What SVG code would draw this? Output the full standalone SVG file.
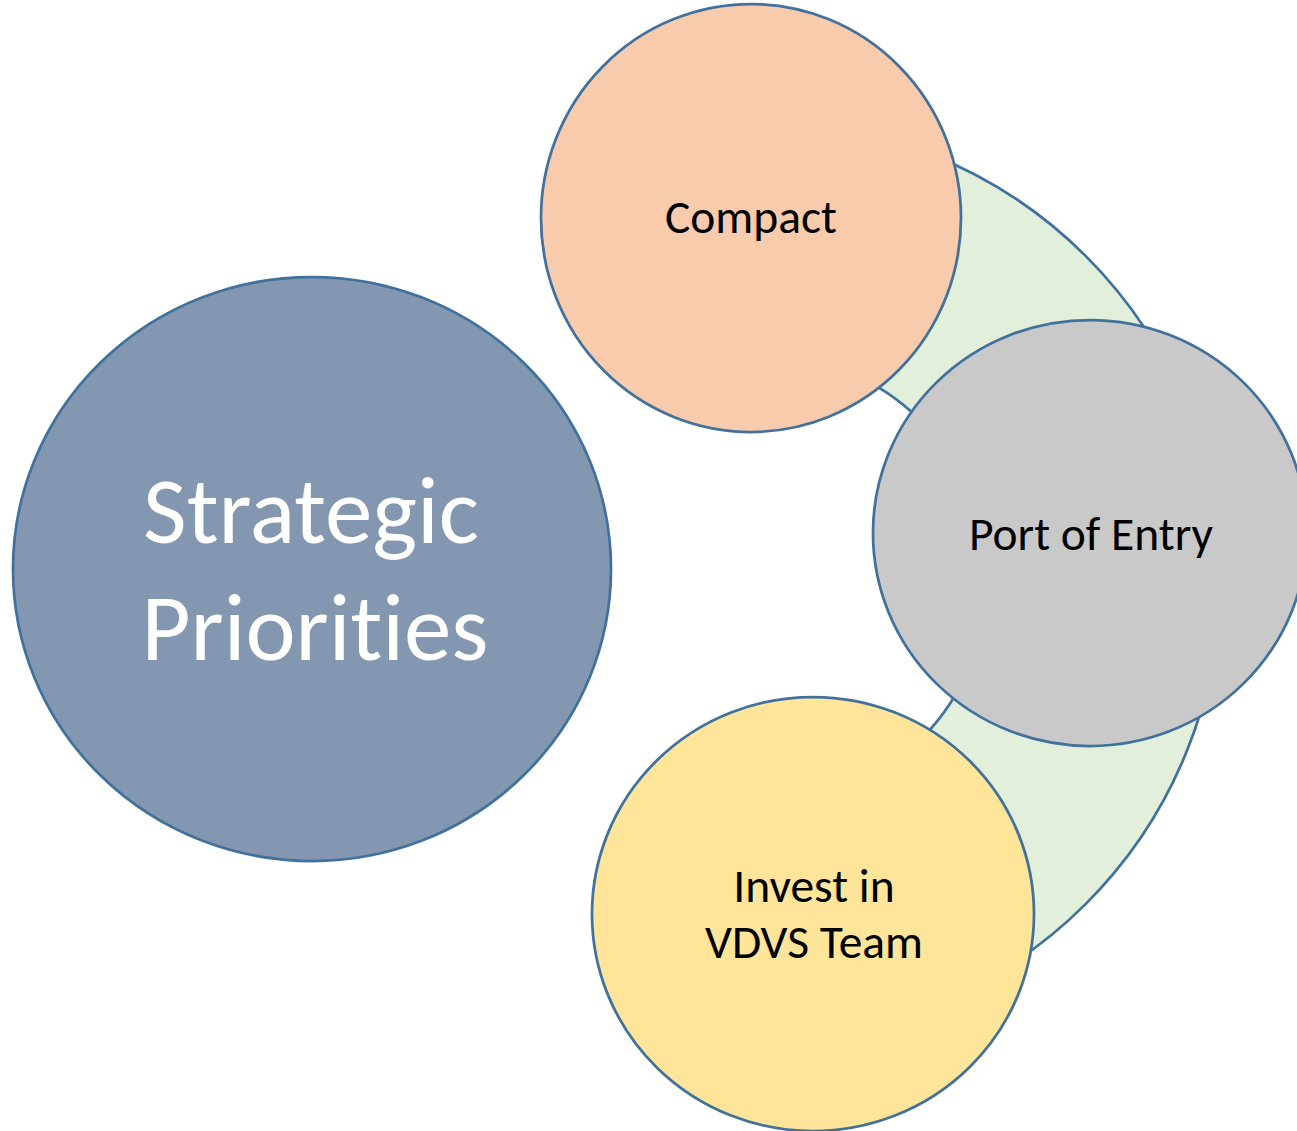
<svg xmlns="http://www.w3.org/2000/svg" width="1297" height="1131" viewBox="0 0 1297 1131">
<style>
.node{stroke:#41719C;stroke-width:2.75}
text{font-variant-ligatures:none;font-feature-settings:"liga" 0,"clig" 0}
.lbl{font-family:Carlito,Calibri,Lato,"Liberation Sans",sans-serif;text-anchor:middle;fill:#000;font-size:47.5px}
.big{font-family:Carlito,Calibri,Lato,"Liberation Sans",sans-serif;text-anchor:middle;fill:#fff;font-size:95px}
</style>
<rect width="1297" height="1131" fill="#fff"/>
<g id="connectors">
<path id="band" class="node" fill="#E2EFDA" d="M 762 122 A 458 458 0 0 1 762 1038 L 762 805 A 225 225 0 0 0 762 355 Z"/>
</g>
<g id="strategic">
<ellipse class="node" cx="312" cy="569" rx="299" ry="292" fill="#8497B0"/>
<text class="big" x="311" y="543">Strategic</text>
<text class="big" x="315" y="660">Priorities</text>
</g>
<g id="compact">
<ellipse class="node" cx="751" cy="218" rx="210" ry="214" fill="#F8CBAD"/>
<text class="lbl" x="751" y="233">Compact</text>
</g>
<g id="port">
<ellipse class="node" cx="1090" cy="533" rx="217" ry="213" fill="#C9C9C9"/>
<text class="lbl" x="1091" y="550">Port of Entry</text>
</g>
<g id="invest">
<ellipse class="node" cx="813" cy="914" rx="221" ry="217" fill="#FFE599"/>
<text class="lbl" x="814" y="902">Invest in</text>
<text class="lbl" x="814" y="958">VDVS Team</text>
</g>
</svg>
